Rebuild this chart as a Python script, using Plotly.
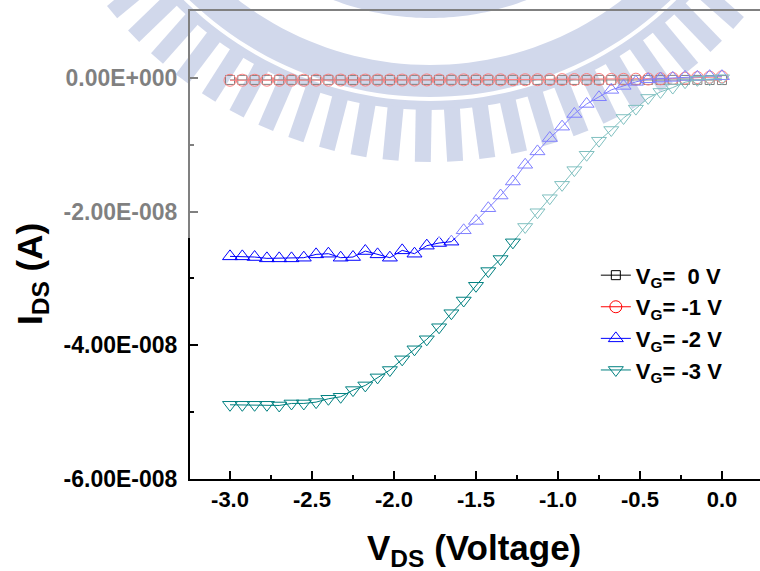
import math
import plotly.graph_objects as go

# Drain-source sweep (V) and drain current for each gate bias (units of 1e-8 A)
vds = [-3.0, -2.925, -2.85, -2.775, -2.7, -2.625, -2.55, -2.475, -2.4, -2.325,
       -2.25, -2.175, -2.1, -2.025, -1.95, -1.875, -1.8, -1.725, -1.65, -1.575,
       -1.5, -1.425, -1.35, -1.275, -1.2, -1.125, -1.05, -0.975, -0.9, -0.825,
       -0.75, -0.675, -0.6, -0.525, -0.45, -0.375, -0.3, -0.225, -0.15, -0.075, 0.0]

ids_vg0 = [-0.031, -0.030, -0.031, -0.030, -0.031, -0.030, -0.030, -0.031, -0.030, -0.030,
           -0.031, -0.030, -0.030, -0.031, -0.030, -0.030, -0.031, -0.030, -0.030, -0.031,
           -0.030, -0.030, -0.031, -0.030, -0.030, -0.031, -0.030, -0.030, -0.031, -0.030,
           -0.030, -0.031, -0.030, -0.030, -0.031, -0.030, -0.030, -0.031, -0.030, -0.032, -0.033]

ids_vg1 = [-0.036, -0.035, -0.036, -0.035, -0.035, -0.034, -0.035, -0.034, -0.034, -0.033,
           -0.034, -0.033, -0.033, -0.032, -0.033, -0.032, -0.031, -0.032, -0.031, -0.030,
           -0.030, -0.029, -0.030, -0.029, -0.028, -0.028, -0.027, -0.026, -0.026, -0.025,
           -0.024, -0.023, -0.022, -0.020, -0.018, -0.014, -0.010, -0.004, 0.004, 0.010, 0.015]

ids_vg2 = [-2.67, -2.67, -2.68, -2.70, -2.70, -2.70, -2.69, -2.64, -2.63, -2.69,
           -2.68, -2.59, -2.64, -2.69, -2.58, -2.63, -2.51, -2.47, -2.45, -2.28,
           -2.14, -1.95, -1.76, -1.55, -1.30, -1.10, -0.90, -0.73, -0.54, -0.39,
           -0.29, -0.18, -0.12, -0.06, -0.02, -0.01, 0.00, 0.015, 0.015, 0.025, 0.025]

ids_vg3 = [-4.89, -4.89, -4.89, -4.89, -4.90, -4.87, -4.87, -4.85, -4.80, -4.77,
           -4.67, -4.60, -4.48, -4.37, -4.21, -4.06, -3.91, -3.73, -3.52, -3.33,
           -3.11, -2.89, -2.71, -2.46, -2.23, -2.01, -1.80, -1.60, -1.38, -1.15,
           -0.94, -0.78, -0.60, -0.46, -0.30, -0.21, -0.145, -0.065, -0.03, -0.02, -0.005]

ids_unit = 1e-8

series_names = ["V<sub>G</sub>=\u00a0\u00a00 V", "V<sub>G</sub>= -1 V",
                "V<sub>G</sub>= -2 V", "V<sub>G</sub>= -3 V"]
series_values = [ids_vg0, ids_vg1, ids_vg2, ids_vg3]
series_colors = ["#000000", "#ff0000", "#0000ff", "#008080"]
series_symbols = ["square-open", "circle-open", "triangle-up-open", "triangle-down-open"]
series_sizes = [9, 12, 13, 13]

x_ticks = [-3.0, -2.5, -2.0, -1.5, -1.0, -0.5, 0.0]
x_ticktext = ["-3.0", "-2.5", "-2.0", "-1.5", "-1.0", "-0.5", "0.0"]
x_minor = [-2.75, -2.25, -1.75, -1.25, -0.75, -0.25]
y_ticks = [0.0, -2e-8, -4e-8, -6e-8]
y_ticktext = ["0.00E+000", "-2.00E-008", "-4.00E-008", "-6.00E-008"]
y_minor = [-1e-8, -3e-8, -5e-8]

FONT = "Liberation Sans, Arial, sans-serif"
W, H = 760, 571
ML, MR, MT, MB = 190, 0, 11, 92
PW, PH = W - ML - MR, H - MT - MB

fig = go.Figure()
for name, vals, col, sym, sz in zip(series_names, series_values, series_colors,
                                    series_symbols, series_sizes):
    fig.add_trace(go.Scatter(
        x=vds, y=[v * ids_unit for v in vals], name=name, legendgroup=name,
        mode="lines+markers",
        line=dict(color=col, width=1),
        marker=dict(symbol=sym, size=sz, color=col, line=dict(width=1, color=col)),
    ))


# --- faint emblem drawn behind the data ---------------------------------
def px_to_paper(px, py):
    return ((px - ML) / PW, (MT + PH - py) / PH)


def path_from_px(points):
    pts = [px_to_paper(x, y) for x, y in points]
    return "M" + " L".join(f"{a:.5f},{b:.5f}" for a, b in pts) + " Z"


CX, CY = 430.0, -250.0


def arc_pts(r, a0, a1, n=80):
    out = []
    for k in range(n + 1):
        a = math.radians(a0 + (a1 - a0) * k / n)
        out.append((CX + r * math.sin(a), CY + r * math.cos(a)))
    return out


def annulus(r_in, r_out, a0, a1):
    return path_from_px(arc_pts(r_out, a0, a1) + arc_pts(r_in, a1, a0))


def tooth(angle, r0, r1, half_w):
    a = math.radians(angle)
    ux, uy = math.sin(a), math.cos(a)
    vx, vy = math.cos(a), -math.sin(a)
    pts = []
    for r, s in [(r0, -1), (r1, -1), (r1, 1), (r0, 1)]:
        pts.append((CX + r * ux + s * half_w * vx, CY + r * uy + s * half_w * vy))
    return path_from_px(pts)


EMBLEM = "#a3b0d7"
shapes = []
shapes.append(dict(type="path", path=annulus(315, 347, -70, 70), fillcolor=EMBLEM,
                   line=dict(width=0), layer="below", xref="paper", yref="paper"))
shapes.append(dict(type="path", path=annulus(351, 360, -70, 70), fillcolor=EMBLEM,
                   line=dict(width=0), layer="below", xref="paper", yref="paper"))
shapes.append(dict(type="path", path=annulus(228, 268, -40, 40), fillcolor=EMBLEM,
                   line=dict(width=0), layer="below", xref="paper", yref="paper"))
for k in range(-11, 12):
    ang = -1.0 + 4.5 * k
    shapes.append(dict(type="path", path=tooth(ang, 358, 412, 8), fillcolor=EMBLEM,
                       line=dict(width=0), layer="below", xref="paper", yref="paper"))

# pale wash over the upper part of the page
x0, _ = px_to_paper(0, 0)
_, y0 = px_to_paper(0, 238)
_, y1 = px_to_paper(0, -5)
shapes.append(dict(type="rect", xref="paper", yref="paper", x0=x0, x1=1.0, y0=y0, y1=y1,
                   fillcolor="rgba(255,255,255,0.5)", line=dict(width=0), layer="above"))

fig.update_layout(
    width=W, height=H,
    margin=dict(l=ML, r=MR, t=MT, b=MB),
    paper_bgcolor="white", plot_bgcolor="white",
    showlegend=True,
    legend=dict(x=0.712, y=0.48, xanchor="left", yanchor="top",
                bgcolor="rgba(0,0,0,0)", borderwidth=0,
                traceorder="grouped", tracegroupgap=0,
                font=dict(family=FONT, size=22, color="black", weight="bold")),
    shapes=shapes,
    font=dict(family=FONT),
)

fig.update_xaxes(
    range=[-3.244, 0.232], showgrid=False, zeroline=False,
    showline=True, linecolor="black", linewidth=2, mirror=True,
    ticks="inside", ticklen=8, tickwidth=2, tickcolor="black",
    tickvals=x_ticks, ticktext=x_ticktext, ticklabelstandoff=0,
    tickfont=dict(family=FONT, size=22, color="black", weight="bold"),
    minor=dict(tickvals=x_minor, ticks="inside", ticklen=4, tickwidth=2, tickcolor="black"),
)
fig.update_yaxes(
    range=[-6e-8, 1e-8], showgrid=False, zeroline=False,
    showline=True, linecolor="black", linewidth=2, mirror=False,
    ticks="inside", ticklen=8, tickwidth=2, tickcolor="black",
    tickvals=y_ticks, ticktext=y_ticktext, ticklabelstandoff=6,
    tickfont=dict(family=FONT, size=23, color="black", weight="bold"),
    minor=dict(tickvals=y_minor, ticks="inside", ticklen=4, tickwidth=2, tickcolor="black"),
)

# axis titles
fig.add_annotation(text="V<sub>DS</sub> (Voltage)", xref="paper", yref="paper",
                   x=px_to_paper(474, 0)[0], y=px_to_paper(0, 550)[1],
                   xanchor="center", yanchor="middle", showarrow=False,
                   font=dict(family=FONT, size=35, color="black", weight="bold"))
fig.add_annotation(text="I<sub>DS</sub> (A)", xref="paper", yref="paper",
                   x=px_to_paper(32, 0)[0], y=px_to_paper(0, 274)[1],
                   xanchor="center", yanchor="middle", textangle=-90, showarrow=False,
                   font=dict(family=FONT, size=35, color="black", weight="bold"))

fig.write_html("out.html")
